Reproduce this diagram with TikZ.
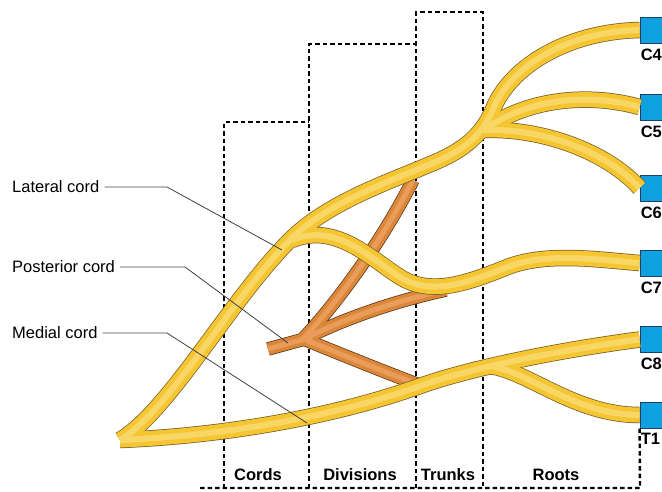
\documentclass[tikz,border=0pt]{standalone}
\usepackage{fontspec}
\setmainfont{Liberation Sans}
\usetikzlibrary{positioning,calc}
\definecolor{nerveedge}{HTML}{76602A}
\definecolor{nervebody}{HTML}{F5C532}
\definecolor{nerveshine}{HTML}{F9D766}
\definecolor{postedge}{HTML}{5E3516}
\definecolor{postbody}{HTML}{DB873A}
\definecolor{postshine}{HTML}{EA9D5A}
\definecolor{rootblue}{HTML}{0FA0DF}
\definecolor{rootedge}{HTML}{1F3F63}
\tikzset{
  zone/.style={line width=2.4pt,dash pattern=on 4.5pt off 3pt,black},
  lead/.style={line width=0.8pt,black!75},
  lbl/.style={font=\fontsize{16.5}{18}\selectfont,inner sep=0pt},
  zlbl/.style={font=\bfseries\fontsize{16.5}{18}\selectfont,inner sep=0pt},
  rootbox/.style={draw=rootedge,fill=rootblue,line width=0.8pt,
    minimum width=30pt,minimum height=26pt,inner sep=0pt},
  nerve/.style={line cap=butt,line join=round},   % tube: edge, body, shine
}
\begin{document}
\begin{tikzpicture}[x=1pt,y=-1pt]
  \useasboundingbox (0,0) rectangle (662,491);
  % root boxes and their names
  \foreach \n/\y in {C4/30,C5/107,C6/188,C7/263,C8/339.5,T1/415}{
    \node[rootbox] (\n) at (655,\y) {};
    \node[zlbl,anchor=north west] (\n lbl) at ([xshift=1pt,yshift=-5pt]\n.south west) {\n};
  }
  % zones
  \draw[zone] (200,488) -- (640,488) -- (T1.south west);
  \draw[zone] (224,488) -- (224,122) -- (309,122);
  \draw[zone] (309,488) -- (309,44) -- (416,44);
  \draw[zone] (416,488) -- (416,12) -- (483,12) -- (483,488);
  \node[zlbl] (cords) at (258,475) {Cords};
  \node[zlbl] (divs) at (360,475) {Divisions};
  \node[zlbl] (trunks) at (448,475) {Trunks};
  \node[zlbl] (roots) at (556,475) {Roots};
  % posterior cord (under the rest)
  \foreach \w/\c in {13.5/postedge,12/postbody,5/postshine}{
    \draw[nerve,line width=\w pt,draw=\c] (268,349) -- (312,337);
    \draw[nerve,line width=\w pt,draw=\c] (302,340) .. controls (335,305) and (380,245) .. (413,180);
    \draw[nerve,line width=\w pt,draw=\c] (306,338) .. controls (350,316) and (400,300) .. (446,290);
    \draw[nerve,line width=\w pt,draw=\c] (306,340) .. controls (345,356) and (385,372) .. (422,386);
  }
  % lateral + medial cords, trunks and roots
  \coordinate (tip) at (120,440);
  \foreach \w/\c in {16.5/nerveedge,15/nervebody,6/nerveshine}{
    \draw[nerve,line width=\w pt,draw=\c] (tip) .. controls (170,410) and (230,300) .. (290,240)
      .. controls (330,200) and (395,180) .. (440,160)
      .. controls (468,147) and (482,133) .. (492,112)
      .. controls (506,72) and (560,32) .. (C4.west);
    \draw[nerve,line width=\w pt,draw=\c] (484,130) .. controls (525,100) and (585,92) .. (C5.west);
    \draw[nerve,line width=\w pt,draw=\c] (484,130) .. controls (540,128) and (605,150) .. (C6.west);
    \draw[nerve,line width=\w pt,draw=\c] (292,240) .. controls (335,222) and (370,258) .. (400,277)
      .. controls (432,297) and (470,282) .. (510,266)
      .. controls (550,252) and (600,260) .. (C7.west);
    \draw[nerve,line width=\w pt,draw=\c] (tip) .. controls (220,436) and (330,418) .. (420,386)
      .. controls (470,368) and (560,350) .. (C8.west);
    \draw[nerve,line width=\w pt,draw=\c] (490,366) .. controls (530,372) and (575,415) .. (T1.west);
  }
  % cord labels
  \node[lbl,anchor=west] (lat) at (12,187) {Lateral cord};
  \node[lbl,anchor=west] (post) at (12,267) {Posterior cord};
  \node[lbl,anchor=west] (med) at (12,333) {Medial cord};
  \coordinate (latpt) at (282,250);
  \coordinate (postpt) at (288,343);
  \coordinate (medpt) at (307,423);
  \draw[lead] ([xshift=5pt]lat.east) -- (167,187) -- (latpt);
  \draw[lead] ([xshift=5pt]post.east) -- (185,267) -- (postpt);
  \draw[lead] ([xshift=5pt]med.east) -- (167,333) -- (medpt);
\end{tikzpicture}
\end{document}
